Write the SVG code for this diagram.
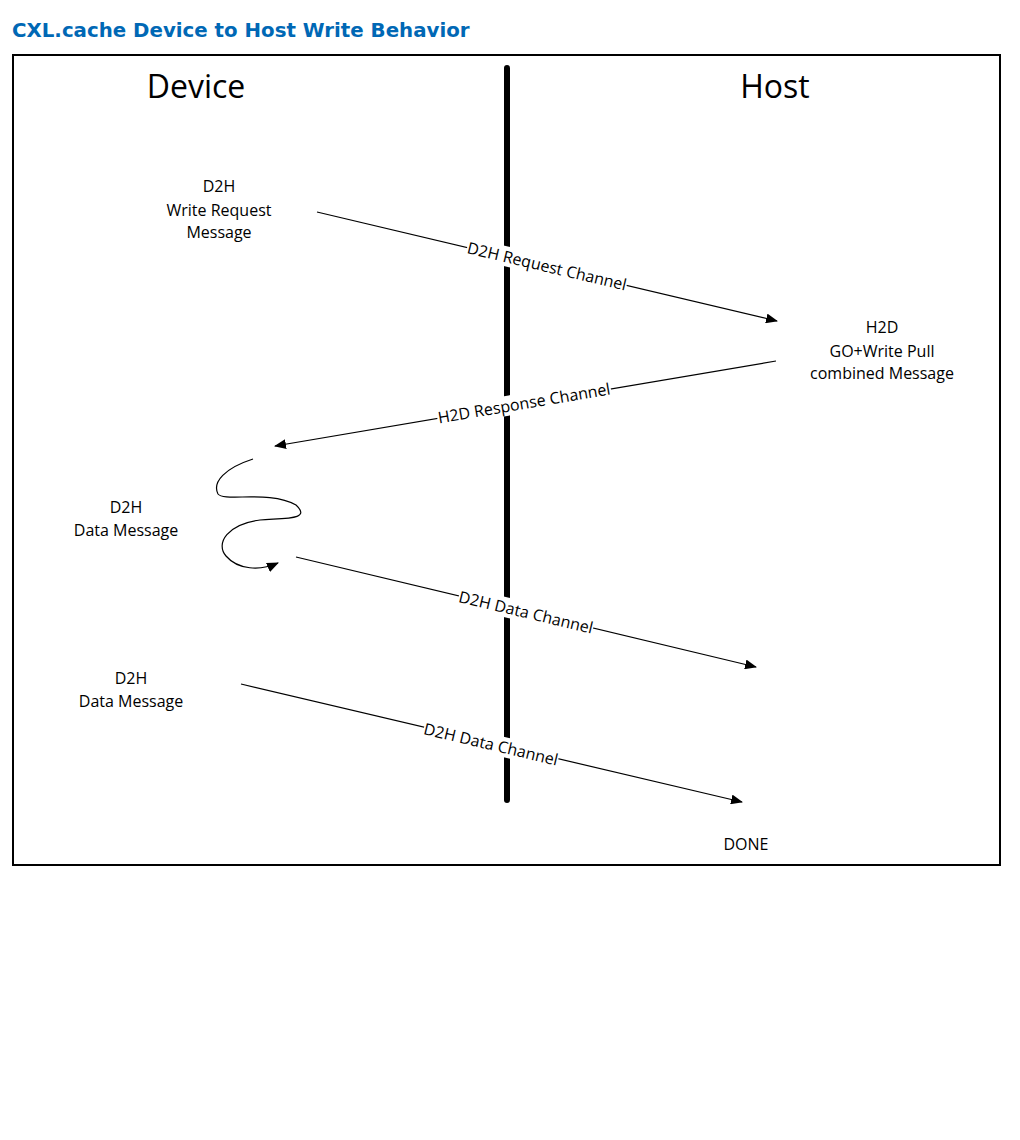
<svg xmlns="http://www.w3.org/2000/svg" width="1020" height="1140" viewBox="0 0 1020 1140">
<defs>
<marker id="ah" markerWidth="12" markerHeight="10" refX="11" refY="5" orient="auto" markerUnits="userSpaceOnUse"><path d="M0,0 L12,5 L0,10 z" fill="#000"/></marker>
<style>
.t{font-family:"Open Sans","Liberation Sans",sans-serif;font-size:16px;fill:#000;text-anchor:middle}
.big{font-family:"Open Sans","Liberation Sans",sans-serif;font-size:32px;fill:#000;text-anchor:middle}
.ln{stroke:#000;stroke-width:1.2;fill:none}
.bg{fill:#fff}
</style>
</defs>
<rect width="1020" height="1140" fill="#fff"/>
<text x="12" y="37" font-family="Verdana,'DejaVu Sans',sans-serif" font-weight="bold" font-size="19.8" fill="#0068b5">CXL.cache Device to Host Write Behavior</text>
<rect x="13" y="55" width="987" height="810" fill="none" stroke="#000" stroke-width="2"/>
<line x1="507" y1="68" x2="507" y2="800" stroke="#000" stroke-width="6" stroke-linecap="round"/>
<g id="device"><text class="big" x="196" y="98">Device</text></g>
<g id="host"><text class="big" x="775" y="98">Host</text></g>
<g id="n1"><text class="t" x="219" y="192">D2H</text><text class="t" x="219" y="216">Write Request</text><text class="t" x="219" y="238">Message</text></g>
<g id="n2"><text class="t" x="882" y="333">H2D</text><text class="t" x="882" y="357">GO+Write Pull</text><text class="t" x="882" y="379">combined Message</text></g>
<g id="n3"><text class="t" x="126" y="513">D2H</text><text class="t" x="126" y="536">Data Message</text></g>
<g id="n4"><text class="t" x="131" y="684">D2H</text><text class="t" x="131" y="707">Data Message</text></g>
<g id="n5"><text class="t" x="746" y="850">DONE</text></g>
<g id="connectors">
<line class="ln" x1="317" y1="212" x2="777" y2="321" marker-end="url(#ah)"/>
<line class="ln" x1="776" y1="361" x2="275" y2="446" marker-end="url(#ah)"/>
<path class="ln" d="M253,459 C225,468 212,482 218,494 C224,502 270,490 296,505 C312,520 285,518 260,520 C228,524 215,543 226,556 C238,570 260,571 278,563" marker-end="url(#ah)"/>
<line class="ln" x1="296" y1="557" x2="756" y2="667" marker-end="url(#ah)"/>
<line class="ln" x1="241" y1="684" x2="742" y2="802" marker-end="url(#ah)"/>
<g transform="translate(547,266) rotate(13.3)"><rect class="bg" x="-82" y="-10" width="164" height="20"/><text class="t" y="6">D2H Request Channel</text></g>
<g transform="translate(524,403) rotate(-9.6)"><rect class="bg" x="-88" y="-10" width="176" height="20"/><text class="t" y="6">H2D Response Channel</text></g>
<g transform="translate(526,612) rotate(13.4)"><rect class="bg" x="-69" y="-10" width="138" height="20"/><text class="t" y="6">D2H Data Channel</text></g>
<g transform="translate(491,744) rotate(13.3)"><rect class="bg" x="-69" y="-10" width="138" height="20"/><text class="t" y="6">D2H Data Channel</text></g>
</g>
</svg>
